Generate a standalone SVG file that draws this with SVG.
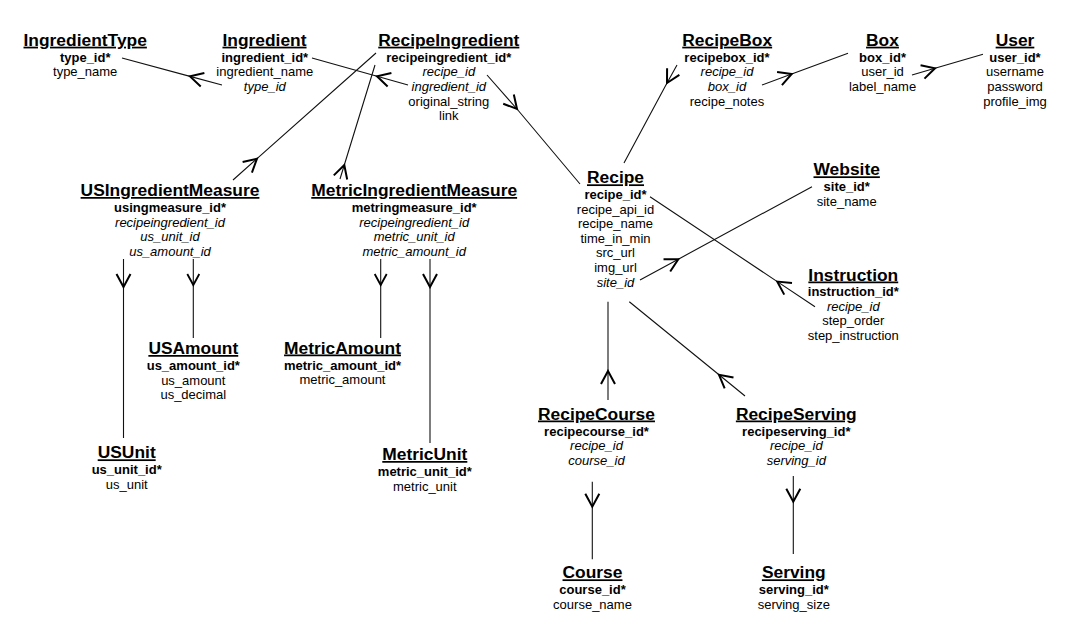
<svg xmlns="http://www.w3.org/2000/svg" width="1069" height="638" viewBox="0 0 1069 638">
<style>
text{font-family:"Liberation Sans",Arial,sans-serif;fill:#000;text-anchor:middle}
.t{font-size:17.4px;font-weight:bold;text-decoration:underline}
.pk{font-size:13px;font-weight:bold}
.f{font-size:13px}
.fk{font-size:13px;font-style:italic}
.c{fill:none;stroke:#111;stroke-width:1.1;marker-mid:url(#ch)}
.cs{fill:none;stroke:#111;stroke-width:1.1;marker-mid:url(#chs)}
</style>
<defs>
<marker id="ch" markerUnits="userSpaceOnUse" orient="auto" viewBox="-20 -10 22 20" markerWidth="22" markerHeight="20" refX="0" refY="0">
<path d="M-13,-7 L0,0 L-13,7" fill="none" stroke="#000" stroke-width="2"/>
</marker>
<marker id="chs" markerUnits="userSpaceOnUse" orient="auto" viewBox="-20 -10 22 20" markerWidth="22" markerHeight="20" refX="0" refY="0">
<path d="M-11,-6 L0,0 L-11,6" fill="none" stroke="#000" stroke-width="1.8"/>
</marker>
</defs>
<rect width="1069" height="638" fill="#fff"/>
<g id="connectors">
<polyline class="c" points="222,85 190,76.4 122,58"/>
<polyline class="c" points="408,85 377,76.3 312,58"/>
<polyline class="c" points="487,75 517,109 580,184"/>
<polyline class="c" points="233,180 257,158.7 376,53"/>
<polyline class="c" points="340,179 344.3,165 375,65"/>
<polyline class="c" points="677,65 667,83 624,163"/>
<polyline class="c" points="762,85 791.7,74 848,53.3"/>
<polyline class="c" points="912,75 935,68.3 983,54.3"/>
<polyline class="c" points="640,280 678.3,259.2 812,186.7"/>
<polyline class="c" points="815,306.7 777.3,281.6 650,196.7"/>
<polyline class="c" points="608,400 608,371 608,301.7"/>
<polyline class="c" points="745,396 719,374.8 629.3,301.7"/>
<polyline class="c" points="592.3,481.7 592.3,506.7 592.3,559.3"/>
<polyline class="c" points="793.3,476 793.3,501.7 793.3,554"/>
<polyline class="c" points="123.5,259 123.5,287 123.5,438"/>
<polyline class="cs" points="193.3,259 193.3,285 193.3,338"/>
<polyline class="cs" points="380.7,259 380.7,285 380.7,338"/>
<polyline class="c" points="430,259 430,287 430,443"/>
</g>
<g id="IngredientType">
<text class="t" x="85.2" y="45.7">IngredientType</text>
<text class="pk" x="85.2" y="61.7">type_id*</text>
<text class="f" x="85.2" y="76.3">type_name</text>
</g>
<g id="Ingredient">
<text class="t" x="264.5" y="45.7">Ingredient</text>
<text class="pk" x="264.8" y="61.7">ingredient_id*</text>
<text class="f" x="264.8" y="76.3">ingredient_name</text>
<text class="fk" x="264.8" y="90.9">type_id</text>
</g>
<g id="RecipeIngredient">
<text class="t" x="448.8" y="45.7">RecipeIngredient</text>
<text class="pk" x="448.8" y="61.7">recipeingredient_id*</text>
<text class="fk" x="448.8" y="76.3">recipe_id</text>
<text class="fk" x="448.8" y="90.9">ingredient_id</text>
<text class="f" x="448.8" y="105.5">original_string</text>
<text class="f" x="448.8" y="120.1">link</text>
</g>
<g id="RecipeBox">
<text class="t" x="727.2" y="45.7">RecipeBox</text>
<text class="pk" x="727" y="61.7">recipebox_id*</text>
<text class="fk" x="727" y="76.3">recipe_id</text>
<text class="fk" x="727" y="90.9">box_id</text>
<text class="f" x="727" y="105.5">recipe_notes</text>
</g>
<g id="Box">
<text class="t" x="882.5" y="45.7">Box</text>
<text class="pk" x="882.5" y="61.7">box_id*</text>
<text class="f" x="882.5" y="76.3">user_id</text>
<text class="f" x="882.5" y="90.9">label_name</text>
</g>
<g id="User">
<text class="t" x="1015" y="45.7">User</text>
<text class="pk" x="1015" y="61.7">user_id*</text>
<text class="f" x="1015" y="76.3">username</text>
<text class="f" x="1015" y="90.9">password</text>
<text class="f" x="1015" y="105.5">profile_img</text>
</g>
<g id="USIngredientMeasure">
<text class="t" x="170" y="196">USIngredientMeasure</text>
<text class="pk" x="170" y="212">usingmeasure_id*</text>
<text class="fk" x="170" y="226.6">recipeingredient_id</text>
<text class="fk" x="170" y="241.2">us_unit_id</text>
<text class="fk" x="170" y="255.8">us_amount_id</text>
</g>
<g id="MetricIngredientMeasure">
<text class="t" x="414.2" y="196">MetricIngredientMeasure</text>
<text class="pk" x="414.2" y="212">metringmeasure_id*</text>
<text class="fk" x="414.2" y="226.6">recipeingredient_id</text>
<text class="fk" x="414.2" y="241.2">metric_unit_id</text>
<text class="fk" x="414.2" y="255.8">metric_amount_id</text>
</g>
<g id="Recipe">
<text class="t" x="615.5" y="183.3">Recipe</text>
<text class="pk" x="615.5" y="199">recipe_id*</text>
<text class="f" x="615.5" y="213.6">recipe_api_id</text>
<text class="f" x="615.5" y="228.2">recipe_name</text>
<text class="f" x="615.5" y="242.8">time_in_min</text>
<text class="f" x="615.5" y="257.4">src_url</text>
<text class="f" x="615.5" y="272">img_url</text>
<text class="fk" x="615.5" y="286.6">site_id</text>
</g>
<g id="Website">
<text class="t" x="846.7" y="175.3">Website</text>
<text class="pk" x="846.7" y="191.3">site_id*</text>
<text class="f" x="846.7" y="205.9">site_name</text>
</g>
<g id="Instruction">
<text class="t" x="853.3" y="280.5">Instruction</text>
<text class="pk" x="853.3" y="296">instruction_id*</text>
<text class="fk" x="853.3" y="310.6">recipe_id</text>
<text class="f" x="853.3" y="325.2">step_order</text>
<text class="f" x="853.3" y="339.8">step_instruction</text>
</g>
<g id="USAmount">
<text class="t" x="193.3" y="354">USAmount</text>
<text class="pk" x="193.3" y="370">us_amount_id*</text>
<text class="f" x="193.3" y="384.6">us_amount</text>
<text class="f" x="193.3" y="399.2">us_decimal</text>
</g>
<g id="MetricAmount">
<text class="t" x="342.5" y="353.5">MetricAmount</text>
<text class="pk" x="342.5" y="369.5">metric_amount_id*</text>
<text class="f" x="342.5" y="384.1">metric_amount</text>
</g>
<g id="USUnit">
<text class="t" x="126.7" y="458.3">USUnit</text>
<text class="pk" x="126.7" y="474.3">us_unit_id*</text>
<text class="f" x="126.7" y="488.9">us_unit</text>
</g>
<g id="MetricUnit">
<text class="t" x="424.8" y="460">MetricUnit</text>
<text class="pk" x="424.8" y="476">metric_unit_id*</text>
<text class="f" x="424.8" y="490.6">metric_unit</text>
</g>
<g id="RecipeCourse">
<text class="t" x="596.5" y="419.5">RecipeCourse</text>
<text class="pk" x="596.5" y="435.5">recipecourse_id*</text>
<text class="fk" x="596.5" y="450.1">recipe_id</text>
<text class="fk" x="596.5" y="464.7">course_id</text>
</g>
<g id="RecipeServing">
<text class="t" x="796.3" y="419.5">RecipeServing</text>
<text class="pk" x="796.3" y="435.5">recipeserving_id*</text>
<text class="fk" x="796.3" y="450.1">recipe_id</text>
<text class="fk" x="796.3" y="464.7">serving_id</text>
</g>
<g id="Course">
<text class="t" x="592.5" y="578.3">Course</text>
<text class="pk" x="592.5" y="594.3">course_id*</text>
<text class="f" x="592.5" y="608.9">course_name</text>
</g>
<g id="Serving">
<text class="t" x="793.8" y="578.3">Serving</text>
<text class="pk" x="793.8" y="594.3">serving_id*</text>
<text class="f" x="793.8" y="608.9">serving_size</text>
</g>
</svg>
